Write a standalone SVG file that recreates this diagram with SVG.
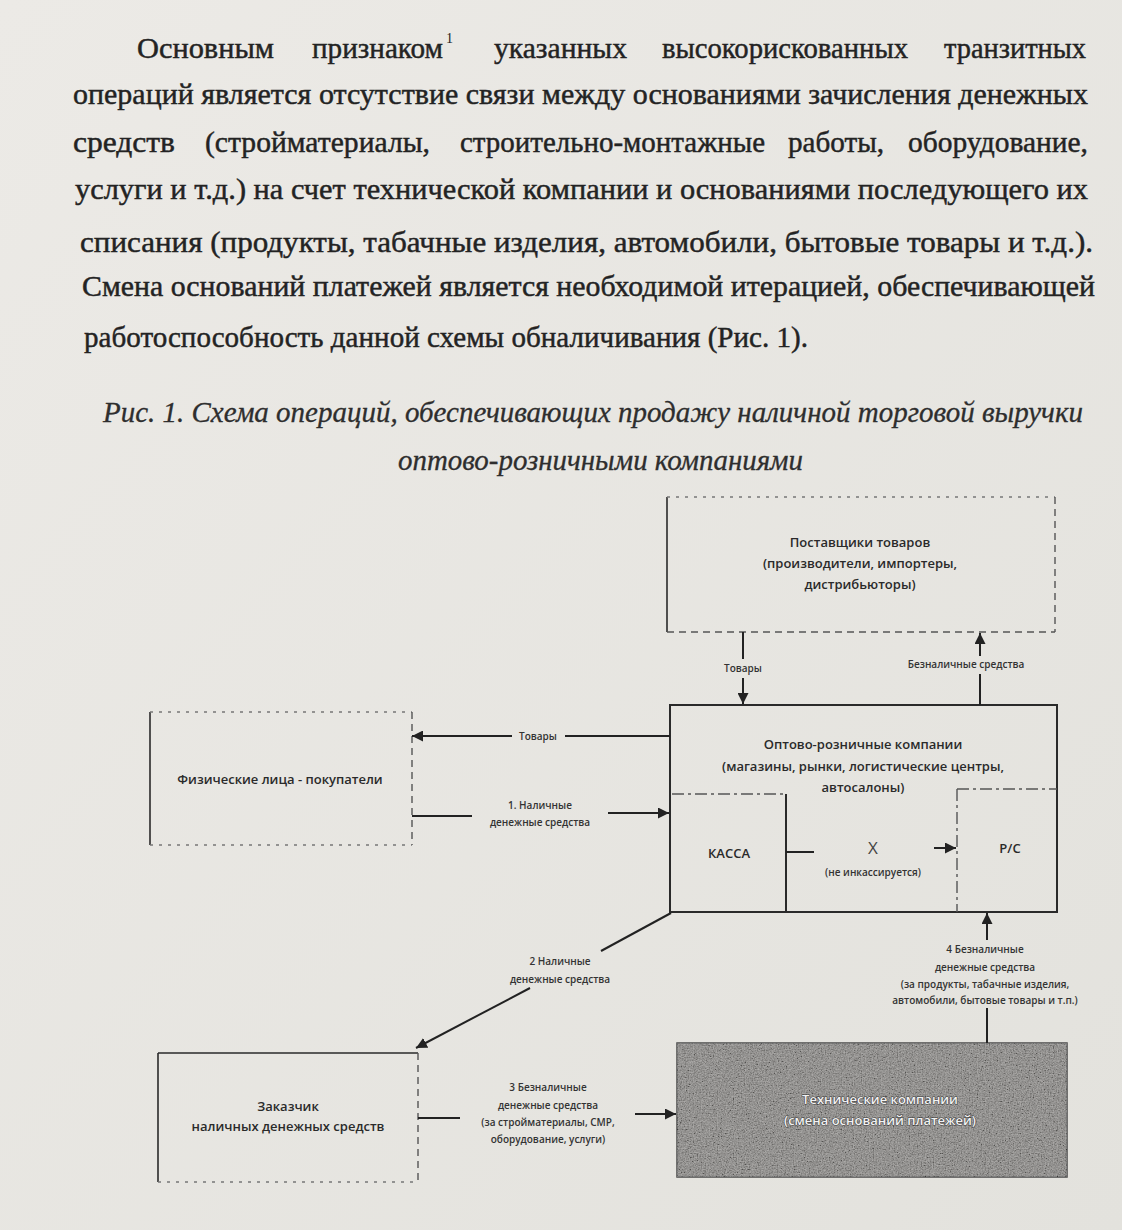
<svg xmlns="http://www.w3.org/2000/svg" width="1122" height="1230" viewBox="0 0 1122 1230">
  <defs>
    <linearGradient id="bg" x1="0" y1="0" x2="1" y2="1">
      <stop offset="0" stop-color="#eceae6"/>
      <stop offset="1" stop-color="#e3e2dd"/>
    </linearGradient>
    <filter id="noise" x="0" y="0" width="100%" height="100%">
      <feTurbulence type="fractalNoise" baseFrequency="0.75" numOctaves="2" seed="3" result="t"/>
      <feColorMatrix type="saturate" values="0" in="t" result="g"/>
      <feComponentTransfer in="g" result="c">
        <feFuncR type="linear" slope="2.2" intercept="-0.6"/>
        <feFuncG type="linear" slope="2.2" intercept="-0.6"/>
        <feFuncB type="linear" slope="2.2" intercept="-0.6"/>
        <feFuncA type="linear" slope="0" intercept="0.35"/>
      </feComponentTransfer>
      <feComposite in="c" in2="SourceGraphic" operator="in"/>
    </filter>
    <marker id="ah" viewBox="0 0 10 10" refX="10" refY="5" markerWidth="11" markerHeight="11" markerUnits="userSpaceOnUse" orient="auto">
      <path d="M0,0 L10,5 L0,10 z" fill="#222"/>
    </marker>
  </defs>
  <style>
    .p { font-family: "Liberation Serif", "Times New Roman", serif; font-size: 29px; fill: #232323; stroke: #232323; stroke-width: 0.45; }
    .sup { font-family: "Liberation Serif", "Times New Roman", serif; font-size: 14px; fill: #232323; }
    .cap { font-family: "Liberation Serif", serif; font-style: italic; font-size: 29px; fill: #2e2e2e; stroke: #2e2e2e; stroke-width: 0.3; }
    .n { font-family: "Open Sans", "Liberation Sans", sans-serif; font-size: 13px; font-weight: 600; fill: #2a2a2a; text-anchor: middle; }
    .x { font-family: "Open Sans", "Liberation Sans", sans-serif; font-size: 17px; font-weight: 400; fill: #444; text-anchor: middle; }
    .l { font-family: "Open Sans", "Liberation Sans", sans-serif; font-size: 10px; font-weight: 600; fill: #333; text-anchor: middle; }
    .solid { fill: none; stroke: #2a2a2a; stroke-width: 2; }
    .thin { fill: none; stroke: #2a2a2a; stroke-width: 1.6; }
    .dash { fill: none; stroke: #555; stroke-width: 1.4; stroke-dasharray: 7 5; }
    .dd { fill: none; stroke: #555; stroke-width: 1.4; stroke-dasharray: 12 4 3 4; }
    .dot { fill: none; stroke: #777; stroke-width: 1.3; stroke-dasharray: 3 6; }
    .c { fill: none; stroke: #222; stroke-width: 2; }
    .tw { font-family: "Open Sans", "Liberation Sans", sans-serif; font-size: 13px; font-weight: 600; fill: #f2f2f2; stroke: #3a3a3a; stroke-width: 1; paint-order: stroke; text-anchor: middle; }
  </style>
  <rect width="1122" height="1230" fill="url(#bg)"/>

  <g id="paragraph">
    <text class="p" x="137" y="58" textLength="137" lengthAdjust="spacingAndGlyphs">Основным</text>
    <text class="p" x="312" y="58" textLength="131" lengthAdjust="spacingAndGlyphs">признаком</text>
    <text class="sup" x="446" y="43">1</text>
    <text class="p" x="494" y="58" textLength="133" lengthAdjust="spacingAndGlyphs">указанных</text>
    <text class="p" x="662" y="58" textLength="246" lengthAdjust="spacingAndGlyphs">высокорискованных</text>
    <text class="p" x="944" y="58" textLength="142" lengthAdjust="spacingAndGlyphs">транзитных</text>
    <text class="p" x="73" y="104" textLength="1015" lengthAdjust="spacingAndGlyphs">операций является отсутствие связи между основаниями зачисления денежных</text>
    <text class="p" x="73" y="152" textLength="102" lengthAdjust="spacingAndGlyphs">средств</text>
    <text class="p" x="205" y="152" textLength="225" lengthAdjust="spacingAndGlyphs">(стройматериалы,</text>
    <text class="p" x="460" y="152" textLength="305" lengthAdjust="spacingAndGlyphs">строительно-монтажные</text>
    <text class="p" x="788" y="152" textLength="96" lengthAdjust="spacingAndGlyphs">работы,</text>
    <text class="p" x="908" y="152" textLength="180" lengthAdjust="spacingAndGlyphs">оборудование,</text>
    <text class="p" x="75" y="199" textLength="1013" lengthAdjust="spacingAndGlyphs">услуги и т.д.) на счет технической компании и основаниями последующего их</text>
    <text class="p" x="80" y="252" textLength="1013" lengthAdjust="spacingAndGlyphs">списания (продукты, табачные изделия, автомобили, бытовые товары и т.д.).</text>
    <text class="p" x="82" y="296" textLength="1013" lengthAdjust="spacingAndGlyphs">Смена оснований платежей является необходимой итерацией, обеспечивающей</text>
    <text class="p" x="84" y="347" textLength="724" lengthAdjust="spacingAndGlyphs">работоспособность данной схемы обналичивания (Рис. 1).</text>
  </g>

  <g id="caption">
    <text class="cap" x="103" y="422" textLength="980" lengthAdjust="spacingAndGlyphs">Рис. 1. Схема операций, обеспечивающих продажу наличной торговой выручки</text>
    <text class="cap" x="398" y="470" textLength="405" lengthAdjust="spacingAndGlyphs">оптово-розничными компаниями</text>
  </g>

  <g id="suppliers">
    <line class="thin" x1="667" y1="497" x2="667" y2="632"/>
    <line class="dot" x1="667" y1="497" x2="1055" y2="497"/>
    <line class="dash" x1="1055" y1="497" x2="1055" y2="632"/>
    <line class="dash" x1="667" y1="632" x2="1055" y2="632"/>
    <text class="n" x="860" y="547">Поставщики товаров</text>
    <text class="n" x="860" y="568">(производители, импортеры,</text>
    <text class="n" x="860" y="589">дистрибьюторы)</text>
  </g>

  <g id="buyers">
    <line class="thin" x1="150" y1="712" x2="150" y2="845"/>
    <line class="dot" x1="150" y1="712" x2="412" y2="712"/>
    <line class="dash" x1="412" y1="712" x2="412" y2="845"/>
    <line class="dot" x1="150" y1="845" x2="412" y2="845"/>
    <text class="n" x="280" y="784">Физические лица - покупатели</text>
  </g>

  <g id="wholesale">
    <rect class="solid" x="670" y="705" width="387" height="207"/>
    <text class="n" x="863" y="749">Оптово-розничные компании</text>
    <text class="n" x="863" y="771">(магазины, рынки, логистические центры,</text>
    <text class="n" x="863" y="792">автосалоны)</text>
  </g>

  <g id="kassa">
    <line class="dd" x1="672" y1="794" x2="786" y2="794"/>
    <line class="solid" x1="786" y1="794" x2="786" y2="912"/>
    <text class="n" x="729" y="858">КАССА</text>
  </g>

  <g id="rs">
    <line class="dd" x1="957" y1="789" x2="1057" y2="789"/>
    <line class="dd" x1="957" y1="789" x2="957" y2="912"/>
    <text class="n" x="1010" y="853">Р/С</text>
  </g>

  <g id="tech">
    <rect x="677" y="1043" width="390" height="134" fill="#7e7c79" stroke="#4a4a4a" stroke-width="1.5"/>
    <rect x="677" y="1043" width="390" height="134" fill="#000" filter="url(#noise)"/>
    <text class="tw" x="880" y="1104">Технические компании</text>
    <text class="tw" x="880" y="1125">(смена оснований платежей)</text>
  </g>

  <g id="customer">
    <line class="thin" x1="158" y1="1053" x2="418" y2="1053"/>
    <line class="thin" x1="158" y1="1053" x2="158" y2="1182"/>
    <line class="dash" x1="418" y1="1053" x2="418" y2="1182"/>
    <line class="dot" x1="158" y1="1182" x2="418" y2="1182"/>
    <text class="n" x="288" y="1111">Заказчик</text>
    <text class="n" x="288" y="1131">наличных денежных средств</text>
  </g>

  <g id="connectors">
    <line class="c" x1="743" y1="632" x2="743" y2="659"/>
    <line class="c" x1="743" y1="678" x2="743" y2="704" marker-end="url(#ah)"/>
    <text class="l" x="743" y="672">Товары</text>
    <line class="c" x1="980" y1="705" x2="980" y2="674"/>
    <line class="c" x1="980" y1="656" x2="980" y2="633" marker-end="url(#ah)"/>
    <text class="l" x="966" y="668">Безналичные средства</text>
    <line class="c" x1="670" y1="736" x2="565" y2="736"/>
    <line class="c" x1="512" y1="736" x2="412" y2="736" marker-end="url(#ah)"/>
    <text class="l" x="538" y="740">Товары</text>
    <line class="c" x1="412" y1="816" x2="472" y2="816"/>
    <line class="c" x1="608" y1="813" x2="669" y2="813" marker-end="url(#ah)"/>
    <text class="l" x="540" y="809">1. Наличные</text>
    <text class="l" x="540" y="826">денежные средства</text>
    <line class="c" x1="786" y1="852" x2="814" y2="852"/>
    <line class="c" x1="934" y1="848" x2="956" y2="848" marker-end="url(#ah)"/>
    <text class="x" x="873" y="854">X</text>
    <text class="l" x="873" y="876">(не инкассируется)</text>
    <line class="c" x1="671" y1="913" x2="601" y2="951"/>
    <line class="c" x1="530" y1="988" x2="416" y2="1048" marker-end="url(#ah)"/>
    <text class="l" x="560" y="965">2 Наличные</text>
    <text class="l" x="560" y="983">денежные средства</text>
    <line class="c" x1="418" y1="1118" x2="460" y2="1118"/>
    <line class="c" x1="635" y1="1114" x2="676" y2="1114" marker-end="url(#ah)"/>
    <text class="l" x="548" y="1091">3 Безналичные</text>
    <text class="l" x="548" y="1109">денежные средства</text>
    <text class="l" x="548" y="1126">(за стройматериалы, СМР,</text>
    <text class="l" x="548" y="1143">оборудование, услуги)</text>
    <line class="c" x1="987" y1="1043" x2="987" y2="1008"/>
    <line class="c" x1="987" y1="940" x2="987" y2="913" marker-end="url(#ah)"/>
    <text class="l" x="985" y="953">4 Безналичные</text>
    <text class="l" x="985" y="971">денежные средства</text>
    <text class="l" x="985" y="988">(за продукты, табачные изделия,</text>
    <text class="l" x="985" y="1004">автомобили, бытовые товары и т.п.)</text>
  </g>
</svg>
